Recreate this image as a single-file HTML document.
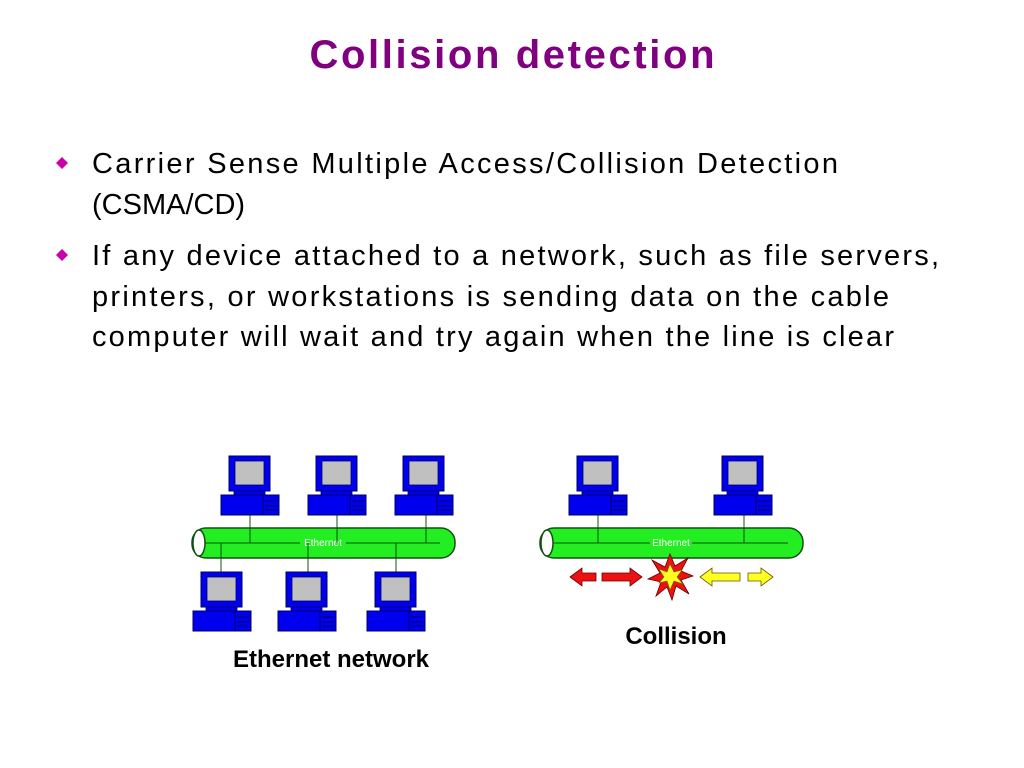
<!DOCTYPE html>
<html><head><meta charset="utf-8"><style>
html,body{margin:0;padding:0;background:#fff;}
svg{display:block;}
</style></head><body>
<svg width="1024" height="768" viewBox="0 0 1024 768" xmlns="http://www.w3.org/2000/svg" font-family="Liberation Sans, Arial, sans-serif">
<defs>
<g id="pc">
  <rect x="8" y="0" width="41" height="35" fill="#0000ee" stroke="#000060" stroke-width="1"/>
  <rect x="14" y="5" width="29" height="24" fill="#c0c0c0" stroke="#000060" stroke-width="0.8"/>
  <rect x="13" y="35" width="31" height="4" fill="#0000ee" stroke="#000060" stroke-width="0.8"/>
  <rect x="0" y="39" width="58" height="20" fill="#0000ee" stroke="#000060" stroke-width="1"/>
  <line x1="42" y1="39" x2="42" y2="59" stroke="#000060" stroke-width="1"/>
  <line x1="44" y1="45" x2="56" y2="45" stroke="#000060" stroke-width="1"/>
  <line x1="44" y1="50" x2="56" y2="50" stroke="#000060" stroke-width="1"/>
  <line x1="44" y1="54" x2="56" y2="54" stroke="#000060" stroke-width="1"/>
</g>
</defs>
<text x="512" y="68" text-anchor="middle" font-size="40" font-weight="bold" fill="#800080" textLength="405">Collision detection</text>
<g fill="#cc00aa">
<polygon points="62,157 68,163 62,169 56,163"/>
<polygon points="62,249 68,255 62,261 56,255"/>
</g>
<g font-size="29" fill="#000">
<text x="92" y="173" textLength="746">Carrier Sense Multiple Access/Collision Detection</text>
<text x="92" y="214">(CSMA/CD)</text>
<text x="92" y="265" textLength="847">If any device attached to a network, such as file servers,</text>
<text x="92" y="306" textLength="797">printers, or workstations is sending data on the cable</text>
<text x="92" y="346" textLength="802">computer will wait and try again when the line is clear</text>
</g>
<!-- Left network -->
<rect x="192" y="528" width="263" height="30" rx="14" fill="#22ee22" stroke="#105010" stroke-width="1.5"/>
<ellipse cx="199" cy="543" rx="6" ry="13" fill="#fff" stroke="#105010" stroke-width="1.5"/>
<line x1="205" y1="543" x2="300" y2="543" stroke="#105010" stroke-width="1"/>
<line x1="346" y1="543" x2="440" y2="543" stroke="#105010" stroke-width="1"/>
<text x="323" y="546" text-anchor="middle" font-size="10" fill="#fff">Ethernet</text>
<g stroke="#105010" stroke-width="1">
<line x1="250" y1="515" x2="250" y2="543"/><line x1="337" y1="515" x2="337" y2="543"/><line x1="426" y1="515" x2="426" y2="543"/>
<line x1="221" y1="543" x2="221" y2="572"/><line x1="308" y1="543" x2="308" y2="572"/><line x1="396" y1="543" x2="396" y2="572"/>
</g>
<use href="#pc" x="221" y="456"/><use href="#pc" x="308" y="456"/><use href="#pc" x="395" y="456"/>
<use href="#pc" x="193" y="572"/><use href="#pc" x="278" y="572"/><use href="#pc" x="367" y="572"/>
<!-- Right network -->
<rect x="540" y="528" width="263" height="30" rx="14" fill="#22ee22" stroke="#105010" stroke-width="1.5"/>
<ellipse cx="547" cy="543" rx="6" ry="13" fill="#fff" stroke="#105010" stroke-width="1.5"/>
<line x1="553" y1="543" x2="650" y2="543" stroke="#105010" stroke-width="1"/>
<line x1="692" y1="543" x2="788" y2="543" stroke="#105010" stroke-width="1"/>
<text x="671" y="546" text-anchor="middle" font-size="10" fill="#fff">Ethernet</text>
<g stroke="#105010" stroke-width="1">
<line x1="598" y1="515" x2="598" y2="543"/><line x1="744" y1="515" x2="744" y2="543"/>
</g>
<use href="#pc" x="569" y="456"/><use href="#pc" x="714" y="456"/>
<!-- arrows -->
<g stroke="#600" stroke-width="0.8">
<polygon fill="#ee1111" points="570,577 582,568 582,573 596,573 596,581 582,581 582,586"/>
<polygon fill="#ee1111" points="642,577 630,568 630,573 602,573 602,581 630,581 630,586"/>
</g>
<g stroke="#665500" stroke-width="0.8">
<polygon fill="#ffff22" points="700,577 712,568 712,573 740,573 740,581 712,581 712,586"/>
<polygon fill="#ffff22" points="773,577 761,568 761,573 748,573 748,581 761,581 761,586"/>
</g>
<polygon fill="#ee1111" stroke="#600" stroke-width="0.8" points="670,554 675,566 688,558 681,571 693,576 681,580 689,594 676,586 672,600 667,587 656,596 661,582 648,579 660,573 652,560 665,567"/>
<polygon fill="#ffff22" stroke="#660" stroke-width="0.6" points="670,564 674,572 682,570 677,577 683,584 674,581 670,590 667,581 659,583 664,577 659,569 667,572"/>
<g font-size="24" font-weight="bold" fill="#000">
<text x="676" y="644" text-anchor="middle">Collision</text>
<text x="331" y="667" text-anchor="middle">Ethernet network</text>
</g>
</svg>
</body></html>
